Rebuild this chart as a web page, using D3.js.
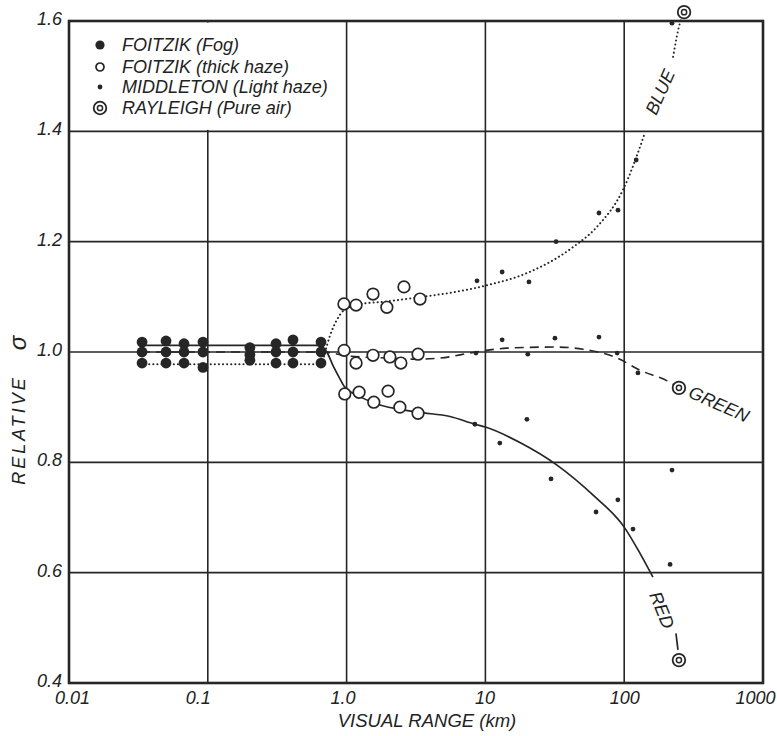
<!DOCTYPE html>
<html>
<head>
<meta charset="utf-8">
<script src="https://cdn.jsdelivr.net/npm/d3@7"></script>
<style>
  html, body { margin: 0; padding: 0; background: #fff; }
  svg { display: block; }
  text { font-family: "Liberation Sans", Arial, sans-serif; font-style: italic; fill: #222; }
</style>
</head>
<body>
<svg id="chart" width="777" height="736"></svg>
<script>
// ---------------- DATA ----------------
const xTicks = [0.01, 0.1, 1, 10, 100, 1000];
const xTickLabels = ["0.01", "0.1", "1.0", "10", "100", "1000"];
const yTicks = [0.4, 0.6, 0.8, 1.0, 1.2, 1.4, 1.6];
const yTickLabels = ["0.4", "0.6", "0.8", "1.0", "1.2", "1.4", "1.6"];

// Foitzik (Fog) – filled circles  [visual range km, relative sigma]
const fogPoints = [
  [0.0336, 1.018], [0.0336, 1.0], [0.0336, 0.98],
  [0.05, 1.02], [0.05, 1.0], [0.05, 0.98],
  [0.0674, 1.015], [0.0674, 1.0], [0.0674, 0.98],
  [0.0923, 1.018], [0.0923, 1.0], [0.0923, 0.972],
  [0.201, 1.008], [0.201, 0.995], [0.201, 0.985],
  [0.31, 1.015], [0.31, 1.0], [0.31, 0.98],
  [0.411, 1.022], [0.411, 1.0], [0.411, 0.98],
  [0.654, 1.018], [0.654, 1.0], [0.654, 0.98]
];
// Foitzik (thick haze) – open circles
const hazePoints = [
  [0.957, 1.087], [1.17, 1.085], [1.55, 1.105], [1.95, 1.081], [2.59, 1.118], [3.38, 1.096],
  [0.96, 1.003], [1.17, 0.98], [1.55, 0.994], [2.05, 0.991], [2.46, 0.98], [3.27, 0.996],
  [0.97, 0.924], [1.23, 0.927], [1.57, 0.909], [1.99, 0.929], [2.42, 0.90], [3.27, 0.889]
];
// Middleton (Light haze) – small dots
const middletonPoints = [
  [221, 1.596], [122, 1.348], [65.8, 1.252], [90.2, 1.257], [32.3, 1.2], [13.2, 1.145],
  [8.7, 1.129], [20.6, 1.127],
  [13.2, 1.022], [31.7, 1.025], [65.8, 1.027], [8.55, 0.998], [20.2, 0.996], [89, 0.998],
  [125.6, 0.962],
  [19.9, 0.878], [8.4, 0.869], [12.7, 0.835], [221, 0.786], [29.7, 0.770], [90, 0.732],
  [62.7, 0.710], [115.7, 0.679], [214, 0.615]
];
// Rayleigh (Pure air) – double circles
const rayleighPoints = [[270, 1.616], [248, 0.935], [248, 0.4415]];

// Curves
const blueCurve = [
  [0.033, 0.978], [0.66, 0.978], [0.7, 1.0], [0.76, 1.03], [0.85, 1.058], [0.95, 1.075],
  [1.2, 1.086], [2, 1.092], [3.5, 1.1], [5.5, 1.107], [10.3, 1.121], [19.9, 1.143],
  [42.7, 1.19], [63.7, 1.227], [98, 1.294], [141, 1.397]
];
const blueTail = [[225, 1.535], [252, 1.596], [270, 1.616]];
const greenCurve = [
  [0.033, 1.0], [0.68, 1.0], [1.0, 0.993], [2, 0.989], [3, 0.987], [4.7, 0.989],
  [8.55, 1.0], [14.3, 1.007], [31.7, 1.009], [50.5, 1.005], [89, 0.989], [130, 0.967],
  [214, 0.945], [248, 0.935]
];
const redCurve = [
  [0.033, 1.012], [0.64, 1.012], [0.72, 1.0], [0.8, 0.975], [0.88, 0.955], [0.96, 0.938],
  [1.23, 0.92], [1.6, 0.907], [3.27, 0.891], [5.56, 0.883], [8.4, 0.869], [10, 0.864],
  [18, 0.835], [32.8, 0.795], [60, 0.74], [99.7, 0.683], [130, 0.635], [161, 0.592]
];
const redTail = [[236, 0.49], [244, 0.46]];

const legendItems = [
  { label: "FOITZIK (Fog)", type: "fog" },
  { label: "FOITZIK (thick haze)", type: "haze" },
  { label: "MIDDLETON (Light haze)", type: "middleton" },
  { label: "RAYLEIGH (Pure air)", type: "rayleigh" }
];

// ---------------- CHART ----------------
const ink = "#262626";
const svg = d3.select("#chart");
const pLeft = 69, pRight = 763, pTop = 21, pBottom = 683;
const x = d3.scaleLog().domain([0.01, 1000]).range([pLeft, pRight]);
const y = d3.scaleLinear().domain([0.4, 1.6]).range([pBottom, pTop]);

// grid
const grid = svg.append("g");
grid.selectAll("line.vx").data(xTicks).join("line")
  .attr("x1", d => x(d)).attr("x2", d => x(d))
  .attr("y1", pTop).attr("y2", pBottom)
  .attr("stroke", ink).attr("stroke-width", 1.6);
grid.selectAll("line.hy").data(yTicks).join("line")
  .attr("x1", pLeft).attr("x2", pRight)
  .attr("y1", d => y(d)).attr("y2", d => y(d))
  .attr("stroke", ink).attr("stroke-width", 1.6);

// legend background (covers grid)
svg.append("rect").attr("x", pLeft + 1.5).attr("y", pTop + 1.5)
  .attr("width", 268).attr("height", y(1.4) - pTop - 3)
  .attr("fill", "#fff");

// frame
svg.append("rect").attr("x", pLeft).attr("y", pTop)
  .attr("width", pRight - pLeft).attr("height", pBottom - pTop)
  .attr("fill", "none").attr("stroke", ink).attr("stroke-width", 2.6);

// axes (labels via d3 axes)
const xShift = [3, -10, -4, -1, 0, -8];
const xAxis = d3.axisBottom(x).tickValues(xTicks)
  .tickFormat((d, i) => xTickLabels[i]).tickSize(0).tickPadding(8);
const gx = svg.append("g").attr("transform", `translate(0,${pBottom})`).call(xAxis);
gx.select(".domain").remove();
gx.selectAll("text").attr("font-size", 18).attr("dx", (d, i) => xShift[i])
  .style("font-family", "Liberation Sans, Arial, sans-serif").style("font-style", "italic").attr("fill", ink);

const yAxis = d3.axisLeft(y).tickValues(yTicks)
  .tickFormat((d, i) => yTickLabels[i]).tickSize(0).tickPadding(7);
const gy = svg.append("g").attr("transform", `translate(${pLeft},0)`).call(yAxis);
gy.select(".domain").remove();
gy.selectAll("text").attr("font-size", 18).attr("dy", "0.2em")
  .style("font-family", "Liberation Sans, Arial, sans-serif").style("font-style", "italic").attr("fill", ink);

// axis titles
svg.append("text").attr("x", 427).attr("y", 727)
  .attr("text-anchor", "middle").attr("font-size", 18.5).text("VISUAL RANGE (km)");
svg.append("text").attr("transform", "translate(25,430) rotate(-90)")
  .attr("text-anchor", "middle").attr("font-size", 18).attr("letter-spacing", 3).text("RELATIVE");
svg.append("text").attr("transform", "translate(26,343) rotate(-90)")
  .attr("text-anchor", "middle").attr("font-size", 24).text("σ");

// curves
const line = d3.line().x(d => x(d[0])).y(d => y(d[1])).curve(d3.curveMonotoneX);
const drawCurve = (data, dash, w, cap) => svg.append("path").datum(data)
  .attr("d", line).attr("fill", "none").attr("stroke", ink)
  .attr("stroke-width", w).attr("stroke-dasharray", dash).attr("stroke-linecap", cap);
drawCurve(blueCurve, "0.1,4", 2, "round");
drawCurve(blueTail, "0.1,4", 2, "round");
drawCurve(greenCurve, "9,6", 1.6, "butt");
drawCurve(redCurve, null, 1.7, "butt");
drawCurve(redTail, null, 1.7, "butt");

// markers
function marker(g, type, small) {
  if (type === "fog") {
    g.append("circle").attr("r", small ? 4.6 : 5.4).attr("fill", ink);
  } else if (type === "haze") {
    g.append("circle").attr("r", small ? 4 : 5.8).attr("fill", "#fff").attr("stroke", ink).attr("stroke-width", 1.7);
  } else if (type === "middleton") {
    g.append("circle").attr("r", 2.4).attr("fill", ink);
  } else {
    g.append("circle").attr("r", 6.3).attr("fill", "#fff").attr("stroke", ink).attr("stroke-width", 1.8);
    g.append("circle").attr("r", 2.6).attr("fill", "none").attr("stroke", ink).attr("stroke-width", 1.5);
  }
}
const sets = [[fogPoints, "fog"], [hazePoints, "haze"], [middletonPoints, "middleton"], [rayleighPoints, "rayleigh"]];
sets.forEach(([data, type]) => {
  svg.append("g").selectAll("g").data(data).join("g")
    .attr("transform", d => `translate(${x(d[0])},${y(d[1])})`)
    .each(function () { marker(d3.select(this), type, false); });
});

// curve labels
svg.append("text").attr("transform", "translate(660,92) rotate(-66)")
  .attr("text-anchor", "middle").attr("dy", "0.35em").attr("font-size", 18).text("BLUE");
svg.append("text").attr("transform", "translate(719,404) rotate(24)")
  .attr("text-anchor", "middle").attr("dy", "0.35em").attr("font-size", 18).text("GREEN");
svg.append("text").attr("transform", "translate(662,610) rotate(68)")
  .attr("text-anchor", "middle").attr("dy", "0.35em").attr("font-size", 18).text("RED");

// legend
const legendRowY = [45, 67, 87, 108];
const lg = svg.append("g").selectAll("g").data(legendItems).join("g")
  .attr("transform", (d, i) => `translate(100,${legendRowY[i]})`);
lg.each(function (d) { marker(d3.select(this), d.type, true); });
lg.append("text").attr("x", 22).attr("dy", "0.36em").attr("font-size", 18).text(d => d.label);
</script>
</body>
</html>
